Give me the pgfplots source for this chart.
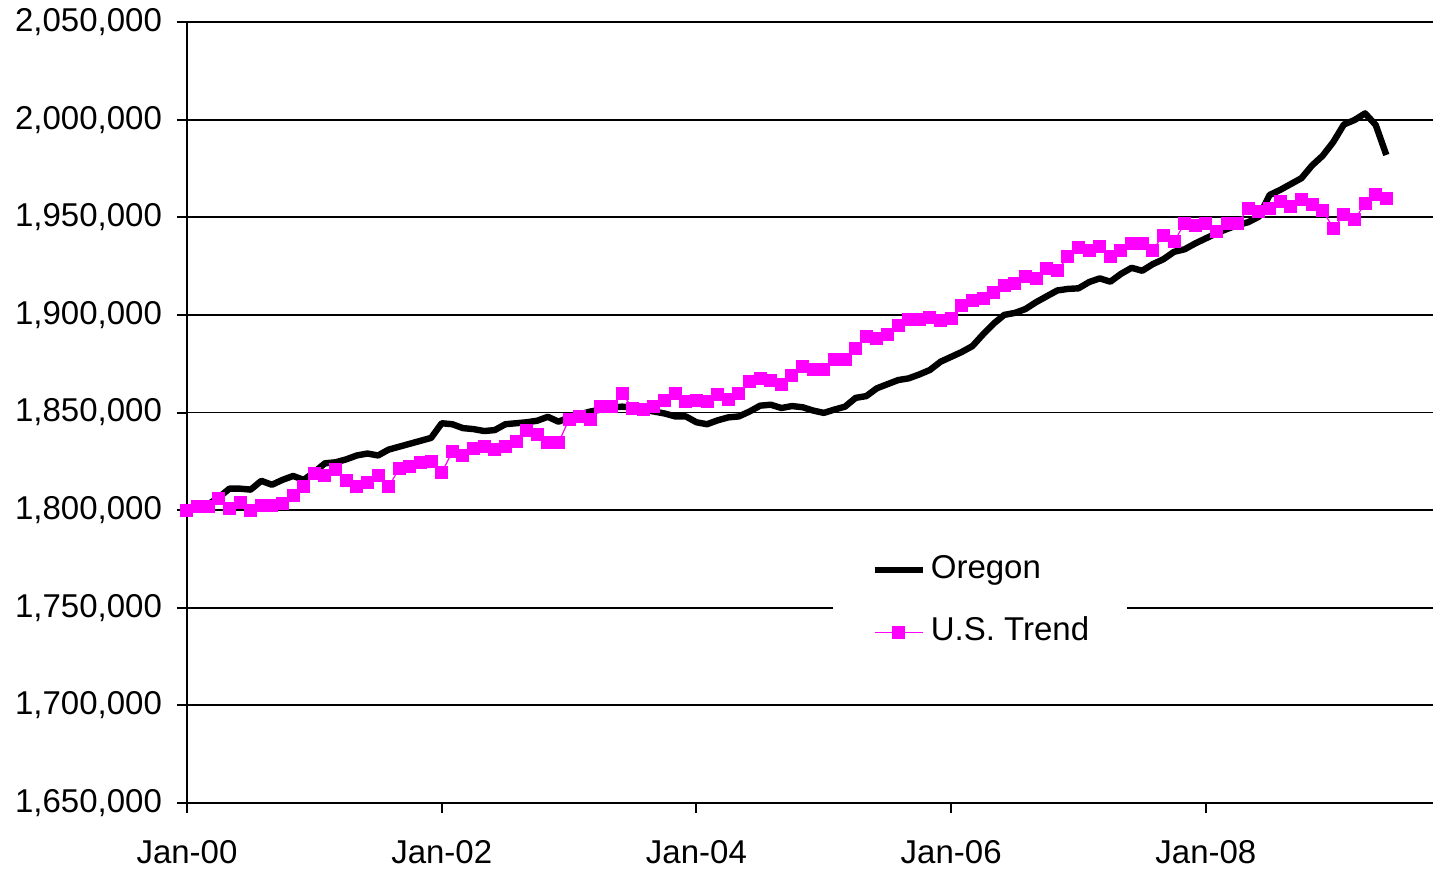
\documentclass[border=0pt]{standalone}
\usepackage{pgfplots}
\pgfplotsset{compat=1.18}
\usepackage{fontspec}
\setmainfont{Liberation Sans}
\definecolor{ustrend}{RGB}{255,0,255}
\begin{document}
\begin{tikzpicture}
\begin{axis}[
  at={(0,0)}, anchor=south west,
  scale only axis, width=623pt, height=390.5pt,
  xmin=0, xmax=117.4, ymin=1650000, ymax=2050000,
  axis lines=left, axis line style={-, line width=1.2pt},
  xtick={0,24,48,72,96},
  xticklabels={Jan-00,Jan-02,Jan-04,Jan-06,Jan-08},
  ytick distance=50000,
  scaled y ticks=false,
  yticklabel style={xshift=-4pt, /pgf/number format/fixed, /pgf/number format/precision=0, /pgf/number format/1000 sep={,}, /pgf/number format/assume math mode=true},
  tick label style={font=\fontsize{16.5}{19}\selectfont},
  xticklabel style={yshift=-10pt},
  tick align=outside, major tick length=5pt,
  tick style={black, line width=1pt},
  ymajorgrids, grid style={black, line width=0.9pt},
  clip=false,
  legend cell align=left,
  legend style={draw=none, fill=white, at={(0.5185,0.3293)}, anchor=north west,
    font=\fontsize{16.5}{19}\selectfont, inner xsep=19pt, inner ysep=4pt,
    row sep=15pt, column sep=2.5pt,
    nodes={inner sep=0pt, text height=12pt, text depth=4pt}},
  legend image code/.code={\draw[#1, mark repeat=2, mark phase=2] plot coordinates {(0pt,0pt) (12pt,0pt) (24pt,0pt)};},
]
\addplot[black, line width=3.2pt, line join=round, no markers] coordinates {
(0,1800000) (1,1801500) (2,1803000) (3,1806500) (4,1811000) (5,1811000) (6,1810500) (7,1815000) (8,1813000) (9,1815500)
(10,1817500) (11,1815500) (12,1819500) (13,1824000) (14,1824500) (15,1826000) (16,1828000) (17,1829000) (18,1828000) (19,1831000)
(20,1832500) (21,1834000) (22,1835500) (23,1837000) (24,1844500) (25,1844000) (26,1842000) (27,1841500) (28,1840500) (29,1841000)
(30,1844000) (31,1844500) (32,1845000) (33,1845800) (34,1847800) (35,1845300) (36,1847500) (37,1849000) (38,1850500) (39,1851500)
(40,1852500) (41,1853000) (42,1852500) (43,1851500) (44,1850500) (45,1849500) (46,1848000) (47,1848000) (48,1845000) (49,1844000)
(50,1846000) (51,1847500) (52,1848000) (53,1850500) (54,1853500) (55,1854000) (56,1852300) (57,1853300) (58,1852700) (59,1851000)
(60,1849800) (61,1851500) (62,1853000) (63,1857500) (64,1858400) (65,1862400) (66,1864500) (67,1866600) (68,1867500) (69,1869500)
(70,1871800) (71,1876000) (72,1878500) (73,1881000) (74,1884000) (75,1890000) (76,1895500) (77,1900000) (78,1901000) (79,1903000)
(80,1906500) (81,1909500) (82,1912500) (83,1913300) (84,1913600) (85,1916800) (86,1918700) (87,1917000) (88,1921000) (89,1924100)
(90,1922600) (91,1926000) (92,1928500) (93,1932300) (94,1933600) (95,1936600) (96,1939200) (97,1941800) (98,1944000) (99,1946000)
(100,1947500) (101,1950300) (102,1961400) (103,1964000) (104,1967000) (105,1970000) (106,1976500) (107,1981500) (108,1988500) (109,1997500)
(110,1999800) (111,2003200) (112,1997300) (113,1981900)
};
\addlegendentry{Oregon}
\addplot[ustrend, line width=0.6pt, mark=square*, mark size=3pt, mark options={fill=ustrend, draw=ustrend, line width=0pt}] coordinates {
(0,1800000) (1,1802100) (2,1801800) (3,1806000) (4,1800900) (5,1803800) (6,1799700) (7,1802600) (8,1802600) (9,1803500)
(10,1807700) (11,1812000) (12,1818900) (13,1817500) (14,1820900) (15,1815400) (16,1812300) (17,1814000) (18,1817500) (19,1812000)
(20,1821400) (21,1822600) (22,1824300) (23,1824800) (24,1819200) (25,1829900) (26,1828200) (27,1831500) (28,1832800) (29,1831100)
(30,1832500) (31,1835000) (32,1841000) (33,1838500) (34,1834500) (35,1834500) (36,1846500) (37,1847800) (38,1846500) (39,1853000)
(40,1853300) (41,1859800) (42,1852100) (43,1851600) (44,1853300) (45,1856400) (46,1859800) (47,1855500) (48,1856400) (49,1855500)
(50,1859000) (51,1856700) (52,1859800) (53,1865800) (54,1867500) (55,1866600) (56,1864600) (57,1869200) (58,1873800) (59,1872100)
(60,1871800) (61,1876900) (62,1876900) (63,1882900) (64,1888800) (65,1888000) (66,1889700) (67,1894800) (68,1897400) (69,1897400)
(70,1898800) (71,1897000) (72,1898200) (73,1905000) (74,1907600) (75,1908500) (76,1911500) (77,1915300) (78,1916200) (79,1919600)
(80,1918700) (81,1923800) (82,1922600) (83,1929800) (84,1934600) (85,1933200) (86,1934900) (87,1929800) (88,1933200) (89,1936700)
(90,1936700) (91,1933200) (92,1940900) (93,1937500) (94,1946900) (95,1946000) (96,1946900) (97,1942600) (98,1946900) (99,1946900)
(100,1954600) (101,1952800) (102,1954600) (103,1958000) (104,1955400) (105,1959200) (106,1956300) (107,1953700) (108,1944300) (109,1951200)
(110,1948600) (111,1957200) (112,1961400) (113,1959700)
};
\addlegendentry{U.S. Trend}
\end{axis}
\pgfresetboundingbox
\useasboundingbox (-93.5pt,-33pt) rectangle (623pt,401.5pt);
\end{tikzpicture}
\end{document}
